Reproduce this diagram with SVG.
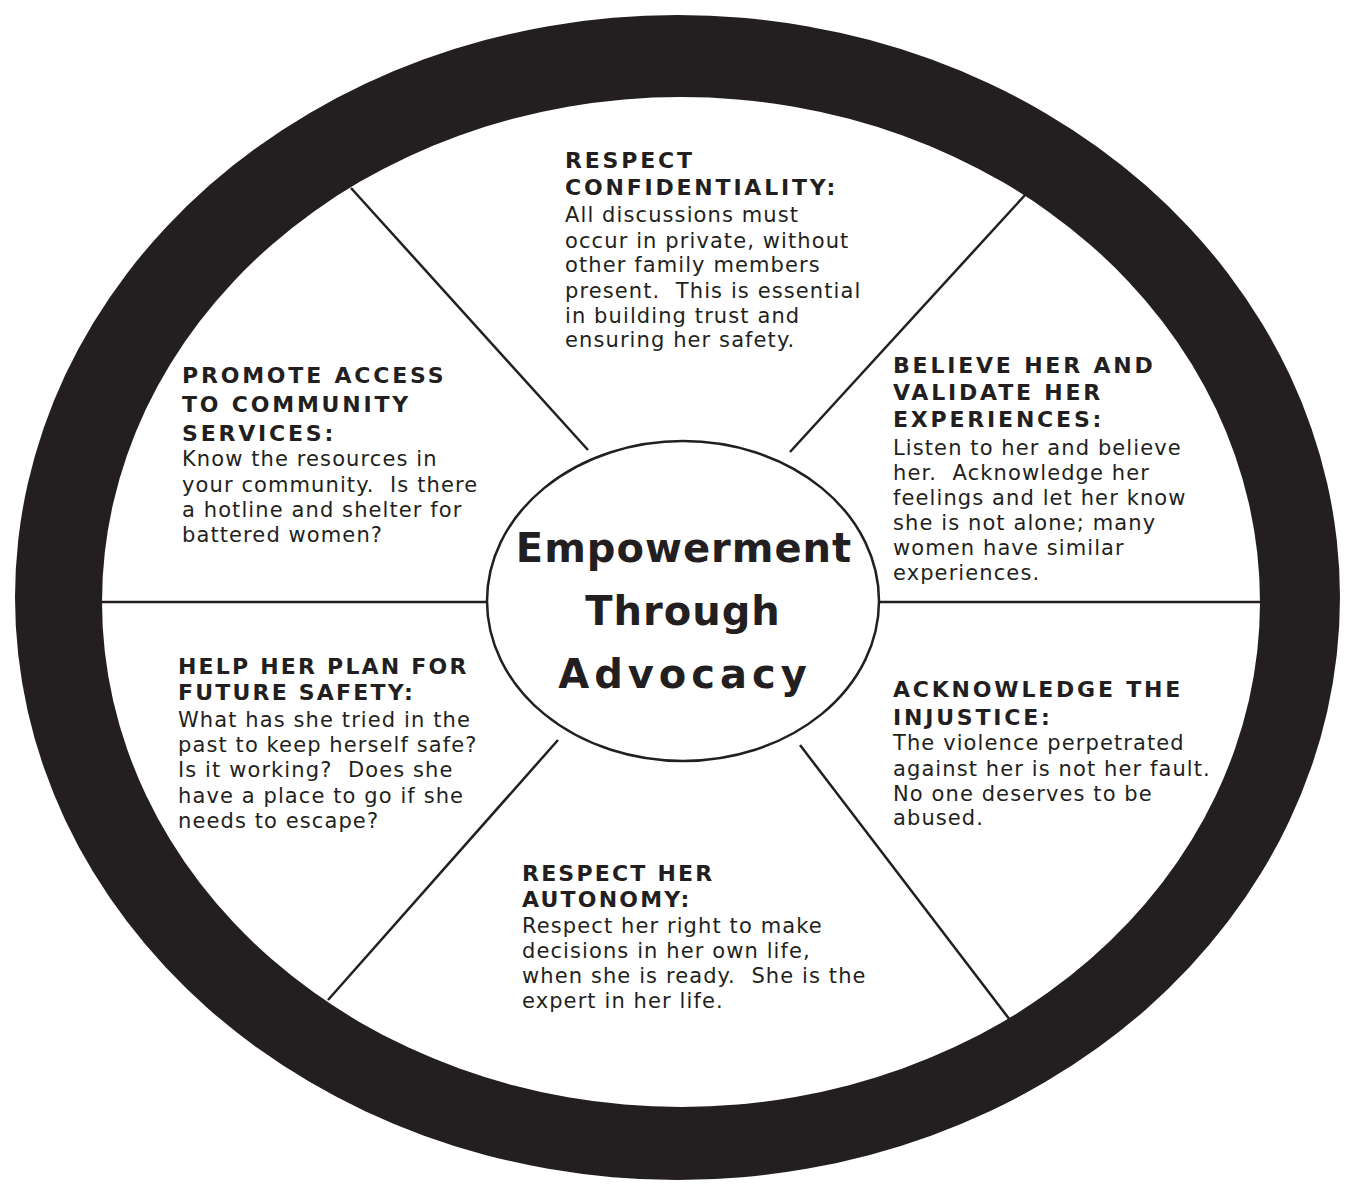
<svg xmlns="http://www.w3.org/2000/svg" width="1346" height="1184" viewBox="0 0 1346 1184">
<style>
.rim{fill:#231f20}
.inner{fill:#ffffff}
.spoke{stroke:#231f20;stroke-width:2.5;fill:none}
.hub{fill:#ffffff;stroke:#231f20;stroke-width:2.5}
.h{font-family:"DejaVu Sans","Liberation Sans",sans-serif;font-weight:bold;font-size:22px;letter-spacing:2.8px;fill:#231f20}
.b{font-family:"DejaVu Sans","Liberation Sans",sans-serif;font-size:21px;letter-spacing:1.1px;fill:#231f20}
.c{font-family:"DejaVu Sans","Liberation Sans",sans-serif;font-weight:bold;font-size:40px;letter-spacing:1px;fill:#231f20;text-anchor:middle}
</style>
<rect width="1346" height="1184" fill="#ffffff"/>
<g id="wheel">
<ellipse class="rim" cx="677.5" cy="597.5" rx="662.5" ry="582.5"/>
<ellipse class="inner" cx="681" cy="602" rx="579" ry="505"/>
</g>
<g id="connectors">
<line class="spoke" x1="102" y1="602" x2="487" y2="602"/>
<line class="spoke" x1="880" y1="602" x2="1260" y2="602"/>
<line class="spoke" x1="351" y1="188" x2="588" y2="450"/>
<line class="spoke" x1="1026" y1="194" x2="790" y2="452"/>
<line class="spoke" x1="328" y1="1000" x2="558" y2="740"/>
<line class="spoke" x1="1010" y1="1020" x2="800" y2="745"/>
</g>
<g id="hub">
<ellipse class="hub" cx="683" cy="601" rx="196" ry="160"/>
<text class="c" x="684" y="562">Empowerment</text>
<text class="c" x="683" y="625">Through</text>
<text class="c" x="685" y="688" style="letter-spacing:5px">Advocacy</text>
</g>
<g id="confidentiality">
<text class="h" x="565" y="168">RESPECT</text>
<text class="h" x="565" y="195">CONFIDENTIALITY:</text>
<text class="b" x="565" y="222">All discussions must</text>
<text class="b" x="565" y="248">occur in private, without</text>
<text class="b" x="565" y="272">other family members</text>
<text class="b" x="565" y="298" xml:space="preserve">present.  This is essential</text>
<text class="b" x="565" y="323">in building trust and</text>
<text class="b" x="565" y="347">ensuring her safety.</text>
</g>
<g id="believe">
<text class="h" x="893" y="373">BELIEVE HER AND</text>
<text class="h" x="893" y="400">VALIDATE HER</text>
<text class="h" x="893" y="427">EXPERIENCES:</text>
<text class="b" x="893" y="455">Listen to her and believe</text>
<text class="b" x="893" y="480" xml:space="preserve">her.  Acknowledge her</text>
<text class="b" x="893" y="505">feelings and let her know</text>
<text class="b" x="893" y="530">she is not alone; many</text>
<text class="b" x="893" y="555">women have similar</text>
<text class="b" x="893" y="580">experiences.</text>
</g>
<g id="community">
<text class="h" x="182" y="383">PROMOTE ACCESS</text>
<text class="h" x="182" y="412">TO COMMUNITY</text>
<text class="h" x="182" y="441">SERVICES:</text>
<text class="b" x="182" y="466">Know the resources in</text>
<text class="b" x="182" y="492" xml:space="preserve">your community.  Is there</text>
<text class="b" x="182" y="517">a hotline and shelter for</text>
<text class="b" x="182" y="542">battered women?</text>
</g>
<g id="safety">
<text class="h" x="178" y="674" style="letter-spacing:2.2px">HELP HER PLAN FOR</text>
<text class="h" x="178" y="700" style="letter-spacing:2.2px">FUTURE SAFETY:</text>
<text class="b" x="178" y="727">What has she tried in the</text>
<text class="b" x="178" y="752">past to keep herself safe?</text>
<text class="b" x="178" y="777" xml:space="preserve">Is it working?  Does she</text>
<text class="b" x="178" y="803">have a place to go if she</text>
<text class="b" x="178" y="828">needs to escape?</text>
</g>
<g id="injustice">
<text class="h" x="893" y="697">ACKNOWLEDGE THE</text>
<text class="h" x="893" y="725">INJUSTICE:</text>
<text class="b" x="893" y="750">The violence perpetrated</text>
<text class="b" x="893" y="776">against her is not her fault.</text>
<text class="b" x="893" y="801">No one deserves to be</text>
<text class="b" x="893" y="825">abused.</text>
</g>
<g id="autonomy">
<text class="h" x="522" y="881" style="letter-spacing:2.2px">RESPECT HER</text>
<text class="h" x="522" y="907" style="letter-spacing:2.2px">AUTONOMY:</text>
<text class="b" x="522" y="933">Respect her right to make</text>
<text class="b" x="522" y="958">decisions in her own life,</text>
<text class="b" x="522" y="983" xml:space="preserve">when she is ready.  She is the</text>
<text class="b" x="522" y="1008">expert in her life.</text>
</g>
</svg>
